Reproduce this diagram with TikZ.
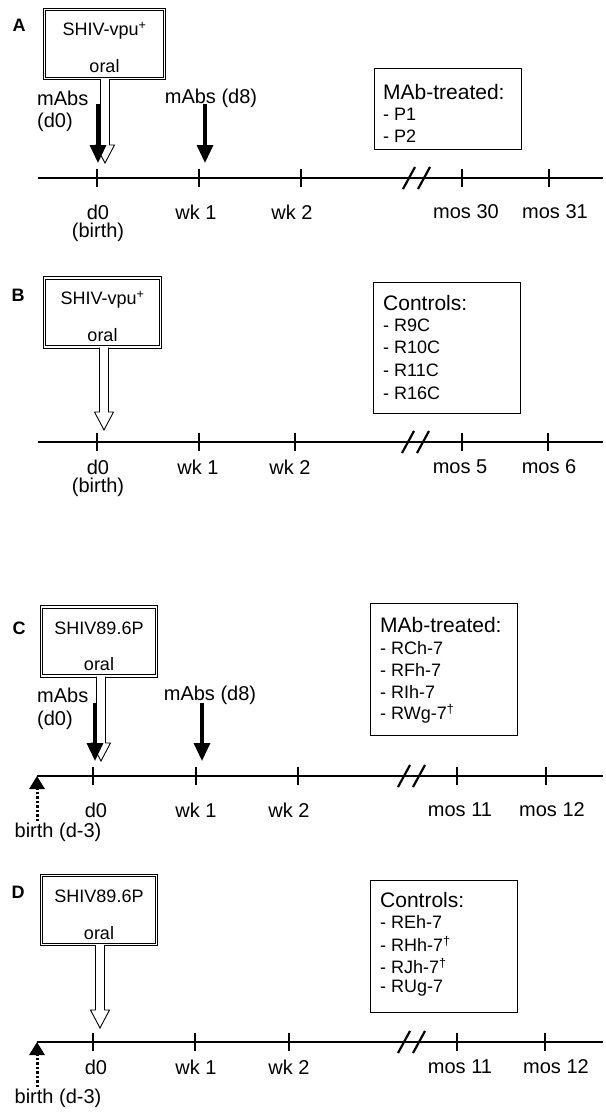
\documentclass[tikz,border=0pt]{standalone}
\usepackage{fontspec}
\setmainfont{Liberation Sans}
\usetikzlibrary{arrows.meta,calc}

\tikzset{
  timeline/.style={line width=2.8pt},
  tickmark/.style={line width=2.8pt},
  brk/.style={line width=2.2pt},
  lbl/.style={font=\fontsize{20}{24}\selectfont,inner sep=0pt},
  panellbl/.style={font=\fontsize{18}{22}\selectfont\bfseries,inner sep=0pt},
  boxtxt/.style={font=\fontsize{18}{22}\selectfont,inner sep=0pt},
  listhead/.style={font=\fontsize{21}{25}\selectfont,inner sep=0pt,anchor=west},
  listitem/.style={font=\fontsize{18}{22}\selectfont,inner sep=0pt,anchor=west},
  virusbox/.style={draw,line width=1pt,double,double distance=1.6pt,minimum height=69pt},
  listbox/.style={draw,line width=1pt,minimum width=147pt},
  mab/.style={line width=3.3pt,-{Triangle[width=16pt,length=18pt]}},
  birtharr/.style={line width=3pt,dash pattern=on 2.5pt off 2pt,-{Triangle[width=15pt,length=13pt]}},
}

% hollow arrow for the oral challenge
\newcommand{\oralarrow}[2]{%
  \filldraw[fill=white,line width=0.9pt] let \p1=(#1), \p2=(#2) in
    (\x2-4.5pt,\y1) -- (\x2-4.5pt,\y2+18pt) -- (\x2-9.5pt,\y2+18pt) -- (\x2,\y2)
    -- (\x2+9.5pt,\y2+18pt) -- (\x2+4.5pt,\y2+18pt) -- (\x2+4.5pt,\y1);}

% break mark on a time line
\newcommand{\brkmark}[2]{%
  \draw[brk] (#1,#2+11) -- (#1+12,#2-11);
  \draw[brk] (#1+15,#2+11) -- (#1+27,#2-11);}

\begin{document}
\begin{tikzpicture}[x=1pt,y=-1pt]
\useasboundingbox (0,0) rectangle (605,1116);

% A
\node[panellbl] (labA) at (19,25) {A};
\node[virusbox,minimum width=120pt] (virA) at (104.5,44) {};
\node[boxtxt] (virAname) at (104.5,31) {SHIV-vpu\textsuperscript{+}};
\node[boxtxt] (virAroute) at (104.5,66) {oral};
\coordinate (tipA) at (105,163);
\oralarrow{virA.south}{tipA}
\coordinate (mabA0) at (98,104); \coordinate (mabA0end) at (98,163);
\coordinate (mabA8) at (205,104); \coordinate (mabA8end) at (205,163);
\draw[mab] (mabA0) -- (mabA0end);
\draw[mab] (mabA8) -- (mabA8end);
\node[lbl,anchor=west] (mabA0txt) at (37,98) {mAbs};
\node[lbl,anchor=west] (mabA0day) at (37,122) {(d0)};
\node[lbl] (mabA8txt) at (211,98) {mAbs (d8)};
\coordinate (startA) at (38,178); \coordinate (endA) at (603,178);
\draw[timeline] (startA) -- (endA);
\foreach \x in {97,199,301,462,549} \draw[tickmark] (\x,169) -- (\x,187);
\brkmark{403}{178}
\node[lbl] (d0A) at (98,212) {d0};
\node[lbl] (birthA) at (98,232) {(birth)};
\node[lbl] (wk1A) at (196,212) {wk 1};
\node[lbl] (wk2A) at (292,212) {wk 2};
\node[lbl] (m30A) at (466,212) {mos 30};
\node[lbl] (m31A) at (555,212) {mos 31};
\node[listbox,minimum height=80pt] (grpA) at (447.5,109) {};
\node[listhead] (grpAhead) at (383,92) {MAb-treated:};
\node[listitem] (grpA1) at (383,114) {- P1};
\node[listitem] (grpA2) at (383,136) {- P2};

% B
\node[panellbl] (labB) at (18,295) {B};
\node[virusbox,minimum width=116pt] (virB) at (102.5,312.5) {};
\node[boxtxt] (virBname) at (102.5,300) {SHIV-vpu\textsuperscript{+}};
\node[boxtxt] (virBroute) at (102.5,335) {oral};
\coordinate (tipB) at (104,430);
\oralarrow{virB.south}{tipB}
\coordinate (startB) at (38,442); \coordinate (endB) at (603,442);
\draw[timeline] (startB) -- (endB);
\foreach \x in {97,199,295,462,548} \draw[tickmark] (\x,433) -- (\x,451);
\brkmark{402}{442}
\node[lbl] (d0B) at (98,467) {d0};
\node[lbl] (birthB) at (98,487) {(birth)};
\node[lbl] (wk1B) at (198,467) {wk 1};
\node[lbl] (wk2B) at (290,467) {wk 2};
\node[lbl] (m5B) at (460,467) {mos 5};
\node[lbl] (m6B) at (549,467) {mos 6};
\node[listbox,minimum height=131pt] (grpB) at (446.5,347.5) {};
\node[listhead] (grpBhead) at (383,303) {Controls:};
\node[listitem] (grpB1) at (383,325) {- R9C};
\node[listitem] (grpB2) at (383,347) {- R10C};
\node[listitem] (grpB3) at (383,370) {- R11C};
\node[listitem] (grpB4) at (383,393) {- R16C};

% C
\node[panellbl] (labC) at (19,628) {C};
\node[virusbox,minimum width=115pt] (virC) at (99,641.5) {};
\node[boxtxt] (virCname) at (99,628) {SHIV89.6P};
\node[boxtxt] (virCroute) at (99,664) {oral};
\coordinate (tipC) at (101,761);
\oralarrow{virC.south}{tipC}
\coordinate (mabC0) at (95,703); \coordinate (mabC0end) at (95,761);
\coordinate (mabC8) at (202,703); \coordinate (mabC8end) at (202,761);
\draw[mab] (mabC0) -- (mabC0end);
\draw[mab] (mabC8) -- (mabC8end);
\node[lbl,anchor=west] (mabC0txt) at (37,695) {mAbs};
\node[lbl,anchor=west] (mabC0day) at (37,720) {(d0)};
\node[lbl] (mabC8txt) at (210,695) {mAbs (d8)};
\coordinate (startC) at (37,776); \coordinate (endC) at (603,776);
\draw[timeline] (startC) -- (endC);
\foreach \x in {93,196,298,457,546} \draw[tickmark] (\x,767) -- (\x,785);
\brkmark{398}{776}
\coordinate (birthCstart) at (37,821);
\draw[birtharr] (birthCstart) -- (startC);
\node[lbl] (birthC) at (58,832) {birth (d-3)};
\node[lbl] (d0C) at (96,810) {d0};
\node[lbl] (wk1C) at (196,810) {wk 1};
\node[lbl] (wk2C) at (289,810) {wk 2};
\node[lbl] (m11C) at (460,810) {mos 11};
\node[lbl] (m12C) at (552,810) {mos 12};
\node[listbox,minimum height=132pt] (grpC) at (443.5,669) {};
\node[listhead] (grpChead) at (380,625) {MAb-treated:};
\node[listitem] (grpC1) at (380,648) {- RCh-7};
\node[listitem] (grpC2) at (380,670) {- RFh-7};
\node[listitem] (grpC3) at (380,692) {- RIh-7};
\node[listitem] (grpC4) at (380,714) {- RWg-7\textsuperscript{†}};

% D
\node[panellbl] (labD) at (18,892) {D};
\node[virusbox,minimum width=115pt] (virD) at (99,910) {};
\node[boxtxt] (virDname) at (99,896) {SHIV89.6P};
\node[boxtxt] (virDroute) at (99,933) {oral};
\coordinate (tipD) at (100,1028);
\oralarrow{virD.south}{tipD}
\coordinate (startD) at (37,1042); \coordinate (endD) at (603,1042);
\draw[timeline] (startD) -- (endD);
\foreach \x in {93,195,289,457,545} \draw[tickmark] (\x,1033) -- (\x,1051);
\brkmark{398}{1042}
\coordinate (birthDstart) at (37,1087);
\draw[birtharr] (birthDstart) -- (startD);
\node[lbl] (birthD) at (58,1098) {birth (d-3)};
\node[lbl] (d0D) at (96,1067) {d0};
\node[lbl] (wk1D) at (196,1067) {wk 1};
\node[lbl] (wk2D) at (289,1067) {wk 2};
\node[lbl] (m11D) at (460,1067) {mos 11};
\node[lbl] (m12D) at (556,1067) {mos 12};
\node[listbox,minimum height=132pt] (grpD) at (443.5,946) {};
\node[listhead] (grpDhead) at (380,900) {Controls:};
\node[listitem] (grpD1) at (380,922) {- REh-7};
\node[listitem] (grpD2) at (380,944) {- RHh-7\textsuperscript{†}};
\node[listitem] (grpD3) at (380,966) {- RJh-7\textsuperscript{†}};
\node[listitem] (grpD4) at (380,988) {- RUg-7};
\end{tikzpicture}
\end{document}
